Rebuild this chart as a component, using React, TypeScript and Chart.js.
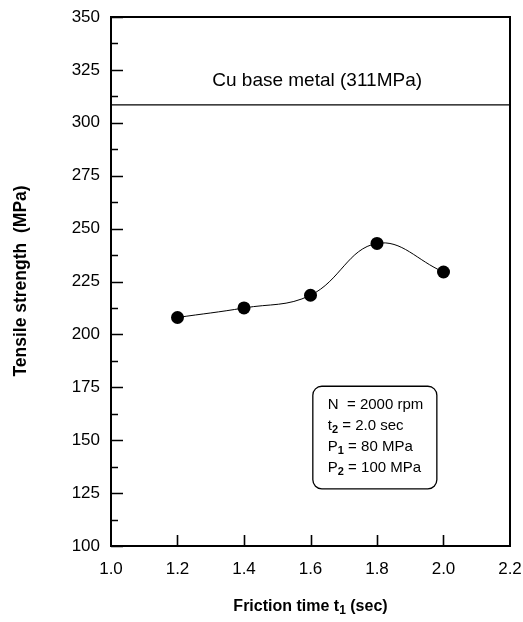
import React, { useEffect, useRef } from 'react';
import { Chart, registerables } from 'chart.js';

Chart.register(...registerables);

const frictionTime = [1.2, 1.4, 1.6, 1.8, 2.0];
const tensileStrength = [208, 212.5, 218.5, 243, 229.5];
const baseMetalStrength = 308.5;
const baseMetalLabel = 'Cu base metal (311MPa)';
const xTicks = [1.0, 1.2, 1.4, 1.6, 1.8, 2.0, 2.2];
const yTicks = [100, 125, 150, 175, 200, 225, 250, 275, 300, 325, 350];
const yMinorTicks = [112.5, 137.5, 162.5, 187.5, 212.5, 237.5, 262.5, 287.5, 312.5, 337.5];
const xTitle = [{ t: 'Friction time t' }, { t: '1', sub: true }, { t: ' (sec)' }];
const yTitle = 'Tensile strength  (MPa)';
const conditionLines = [
  [{ t: 'N  = 2000 rpm' }],
  [{ t: 't' }, { t: '2', sub: true }, { t: ' = 2.0 sec' }],
  [{ t: 'P' }, { t: '1', sub: true }, { t: ' = 80 MPa' }],
  [{ t: 'P' }, { t: '2', sub: true }, { t: ' = 100 MPa' }],
];

const FONT = '"Liberation Sans", Arial, Helvetica, sans-serif';

type Seg = { t: string; sub?: boolean };

function segWidth(ctx: CanvasRenderingContext2D, segs: Seg[], size: number, weight: string) {
  let w = 0;
  for (const s of segs) {
    ctx.font = `${s.sub ? 'bold' : weight} ${s.sub ? Math.round(size * 0.72) : size}px ${FONT}`;
    w += ctx.measureText(s.t).width;
  }
  return w;
}

function drawSegs(ctx: CanvasRenderingContext2D, segs: Seg[], x: number, y: number, size: number, weight: string) {
  let cx = x;
  ctx.textBaseline = 'middle';
  ctx.textAlign = 'left';
  for (const s of segs) {
    ctx.font = `${s.sub ? 'bold' : weight} ${s.sub ? Math.round(size * 0.72) : size}px ${FONT}`;
    ctx.fillText(s.t, cx, s.sub ? y + size * 0.25 : y);
    cx += ctx.measureText(s.t).width;
  }
}

const framePlugin = {
  id: 'frame',
  beforeDatasetsDraw(chart: any) {
    const { ctx, chartArea: a, scales } = chart;
    const xs = scales.x;
    const ys = scales.y;
    ctx.save();
    ctx.strokeStyle = '#000';
    ctx.lineWidth = 2;
    ctx.strokeRect(a.left, a.top, a.right - a.left, a.bottom - a.top);
    ctx.lineWidth = 1.6;
    ctx.beginPath();
    for (const v of yTicks) {
      const p = Math.round(ys.getPixelForValue(v)) + 0.5;
      ctx.moveTo(a.left, p);
      ctx.lineTo(a.left + 12, p);
    }
    for (const v of yMinorTicks) {
      const p = Math.round(ys.getPixelForValue(v)) + 0.5;
      ctx.moveTo(a.left, p);
      ctx.lineTo(a.left + 7, p);
    }
    for (const v of xTicks) {
      if (v === xTicks[0] || v === xTicks[xTicks.length - 1]) continue;
      const p = Math.round(xs.getPixelForValue(v)) + 0.5;
      ctx.moveTo(p, a.bottom);
      ctx.lineTo(p, a.bottom - 11);
    }
    ctx.stroke();
    ctx.restore();
  },
  afterDraw(chart: any) {
    const { ctx, chartArea: a, scales } = chart;
    const xs = scales.x;
    const ys = scales.y;
    ctx.save();
    ctx.fillStyle = '#000';
    ctx.strokeStyle = '#000';

    // base metal label
    ctx.font = `19px ${FONT}`;
    ctx.textAlign = 'center';
    ctx.textBaseline = 'middle';
    ctx.fillText(baseMetalLabel, xs.getPixelForValue(1.62), ys.getPixelForValue(320));

    // condition box
    const bx0 = xs.getPixelForValue(1.607);
    const bx1 = xs.getPixelForValue(1.98);
    const by0 = ys.getPixelForValue(175.5);
    const by1 = ys.getPixelForValue(127);
    ctx.lineWidth = 1.3;
    ctx.beginPath();
    (ctx as any).roundRect(bx0, by0, bx1 - bx0, by1 - by0, 9);
    ctx.stroke();
    const lineGap = 21;
    conditionLines.forEach((segs, i) => {
      drawSegs(ctx, segs as Seg[], bx0 + 15, by0 + 19 + i * lineGap, 15, 'normal');
    });

    // x title
    const tw = segWidth(ctx, xTitle, 16, 'bold');
    drawSegs(ctx, xTitle, (a.left + a.right) / 2 - tw / 2, 607, 16, 'bold');

    // y title
    ctx.translate(21, 281);
    ctx.rotate(-Math.PI / 2);
    ctx.font = `bold 17.5px ${FONT}`;
    ctx.textAlign = 'center';
    ctx.textBaseline = 'middle';
    ctx.fillText(yTitle, 0, 0);
    ctx.restore();
  },
};

export default function App() {
  const ref = useRef<HTMLCanvasElement | null>(null);
  useEffect(() => {
    if (!ref.current) return;
    const chart = new Chart(ref.current, {
      type: 'scatter',
      data: {
        datasets: [
          {
            data: frictionTime.map((x, i) => ({ x, y: tensileStrength[i] })),
            showLine: true,
            tension: 0.4,
            borderColor: '#000',
            borderWidth: 1,
            pointRadius: 6.5,
            pointBackgroundColor: '#000',
            pointBorderColor: '#000',
            pointBorderWidth: 0,
          },
          {
            data: [
              { x: xTicks[0], y: baseMetalStrength },
              { x: xTicks[xTicks.length - 1], y: baseMetalStrength },
            ],
            showLine: true,
            borderColor: '#000',
            borderWidth: 1.3,
            pointRadius: 0,
          },
        ],
      },
      options: {
        responsive: false,
        animation: false,
        layout: { padding: { top: 17, right: 13, left: 0, bottom: 0 } },
        plugins: { legend: { display: false }, tooltip: { enabled: false } },
        scales: {
          x: {
            type: 'linear',
            min: xTicks[0],
            max: xTicks[xTicks.length - 1],
            afterBuildTicks: (s: any) => {
              s.ticks = xTicks.map((v) => ({ value: v }));
            },
            afterFit: (s: any) => {
              s.height = 76;
              s.paddingLeft = 0;
              s.paddingRight = 0;
            },
            grid: { display: false },
            border: { display: false },
            ticks: {
              padding: 5,
              color: '#000',
              font: { size: 17, family: FONT },
              maxRotation: 0,
              autoSkip: false,
              callback: (v: any) => Number(v).toFixed(1),
            },
          },
          y: {
            type: 'linear',
            min: yTicks[0],
            max: yTicks[yTicks.length - 1],
            afterBuildTicks: (s: any) => {
              s.ticks = yTicks.map((v) => ({ value: v }));
            },
            afterFit: (s: any) => {
              s.width = 111;
              s.paddingTop = 0;
              s.paddingBottom = 0;
            },
            grid: { display: false },
            border: { display: false },
            ticks: {
              padding: 3,
              color: '#000',
              font: { size: 17, family: FONT },
              autoSkip: false,
              callback: (v: any) => String(v),
            },
          },
        },
      },
      plugins: [framePlugin],
    });
    return () => chart.destroy();
  }, []);
  return (
    <div style={{ position: 'absolute', left: 0, top: 0, width: 523, height: 622, background: '#fff' }}>
      <canvas ref={ref} width={523} height={622} style={{ width: 523, height: 622, display: 'block' }} />
    </div>
  );
}
